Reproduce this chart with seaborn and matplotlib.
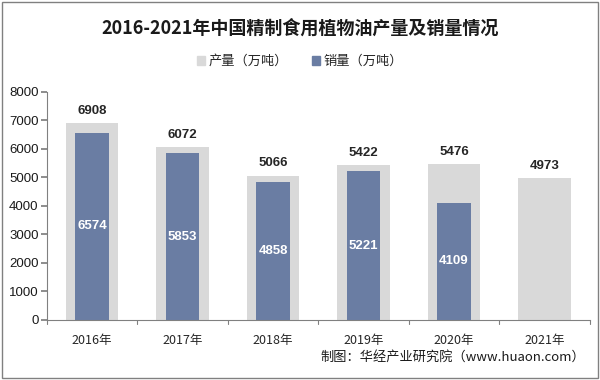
import matplotlib
matplotlib.use("Agg")
import matplotlib.pyplot as plt
import seaborn as sns
import pandas as pd
import numpy as np
from matplotlib.patches import Rectangle

years = ["2016年", "2017年", "2018年", "2019年", "2020年", "2021年"]
production = [6908, 6072, 5066, 5422, 5476, 4973]
sales = [6574, 5853, 4858, 5221, 4109, np.nan]

sns.set_theme(style="white")
plt.rcParams['font.family'] = ['Noto Sans CJK SC', 'DejaVu Sans']

df = pd.DataFrame({"year": years, "prod": production, "sales": sales})

fig = plt.figure(figsize=(6, 3.8), dpi=100)
ax = fig.add_axes([0.078, 0.158, 0.905, 0.6])

c_prod = "#d9d9d9"
c_sales = "#6a7da3"
sns.barplot(data=df, x="year", y="prod", color=c_prod, width=0.58, ax=ax,
            saturation=1, edgecolor="none", linewidth=0)
sns.barplot(data=df, x="year", y="sales", color=c_sales, width=0.37, ax=ax,
            saturation=1, edgecolor="none", linewidth=0)

ax.set_ylim(0, 8000)
ax.set_xlim(-0.5, 5.5)
ax.set_yticks(range(0, 8001, 1000))
ax.set_xlabel("")
ax.set_ylabel("")
for s in ["top", "right"]:
    ax.spines[s].set_visible(False)
for s in ["left", "bottom"]:
    ax.spines[s].set_color("#808080")
    ax.spines[s].set_linewidth(0.8)
ax.tick_params(axis="y", left=True, length=4, color="#808080", labelsize=9.5, pad=2)
ax.tick_params(axis="x", bottom=False, labelsize=9, pad=4)
for xb in np.arange(-0.5, 5.6, 1.0):
    ax.plot([xb, xb], [0, -0.018], transform=ax.get_xaxis_transform(),
            color="#808080", lw=0.8, clip_on=False)
for lab in ax.get_yticklabels():
    lab.set_family(["Liberation Sans"])
    lab.set_color("#1a1a1a")

for i, (p, s) in enumerate(zip(production, sales)):
    ax.text(i, p + 220, f"{p}", ha="center", va="bottom", fontsize=9.5,
            fontweight="bold", color="#262626", family=["Liberation Sans"])
    if not np.isnan(s):
        ax.text(i, s / 2, f"{int(s)}", ha="center", va="center",
                fontsize=9.5, fontweight="bold", color="white", family=["Liberation Sans"])

fig.text(0.5, 0.925, "2016-2021年中国精制食用植物油产量及销量情况", ha="center",
         va="center", fontsize=13, fontweight="bold", color="#1a1a1a")

h = [Rectangle((0, 0), 1, 1, color=c_prod), Rectangle((0, 0), 1, 1, color=c_sales)]
fig.legend(h, ["产量（万吨）", "销量（万吨）"], loc="center", bbox_to_anchor=(0.5, 0.838),
           ncol=2, frameon=False, fontsize=9.5, handlelength=0.6, handleheight=0.6,
           handletextpad=0.3, columnspacing=1.8)

fig.text(0.975, 0.06, "制图：华经产业研究院（www.huaon.com）", ha="right", va="center",
         fontsize=9.5, color="#1a1a1a")

fig.patches.append(Rectangle((0.004, 0.005), 0.992, 0.99, transform=fig.transFigure,
                             fill=False, edgecolor="#808080", lw=1))
fig.savefig("out.png", dpi=100)
